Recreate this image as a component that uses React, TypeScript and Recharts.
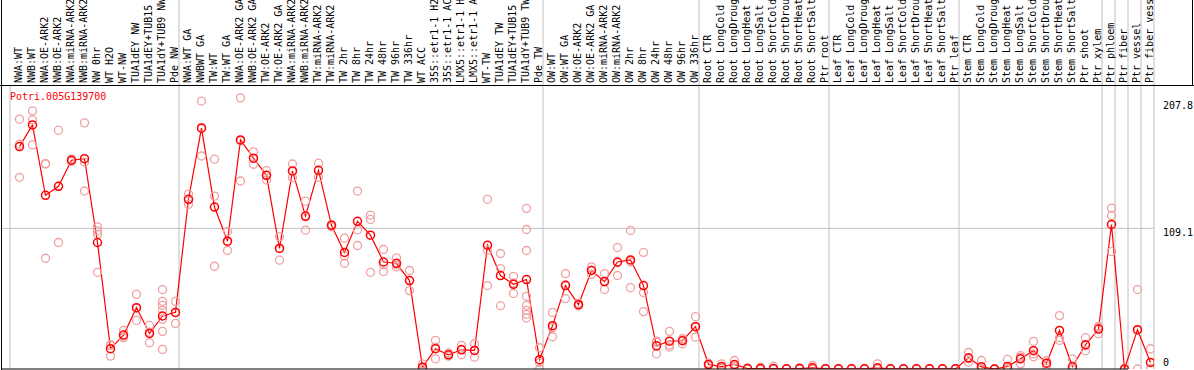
import {
  ComposedChart,
  Line,
  ReferenceLine,
  Scatter,
  XAxis,
  YAxis,
} from 'recharts';

const GENE = 'Potri.005G139700';

// sample names, left to right
const SAMPLES = [
  'NWA:WT', 'NWB:WT', 'NWA:OE-ARK2', 'NWB:OE-ARK2', 'NWA:miRNA-ARK2',
  'NWB:miRNA-ARK2', 'NW 0hr', 'WT H2O', 'WT-NW', 'TUA1dEY NW',
  'TUA1dEY+TUB15 NW', 'TUA1dY+TUB9 NW', 'Pde NW',
  'NWA:WT GA', 'NWBWT GA', 'TW:WT', 'TW:WT GA', 'NWA:OE-ARK2 GA',
  'NWB:OE-ARK2 GA', 'TW:OE-ARK2', 'TW:OE-ARK2 GA', 'NWA:miRNA-ARK2 GA',
  'NWB:miRNA-ARK2 GA', 'TW:miRNA-ARK2', 'TW:miRNA-ARK2 GA', 'TW 2hr',
  'TW 8hr', 'TW 24hr', 'TW 48hr', 'TW 96hr', 'TW 336hr', 'WT ACC',
  '35S::etr1-1 H2O', '35S::etr1-1 ACC', 'LMX5::etr1-1 H2O',
  'LMX5::etr1-1 ACC', 'WT-TW', 'TUA1dEY TW', 'TUA1dEY+TUB15 TW',
  'TUA1dY+TUB9 TW', 'Pde TW',
  'OW:WT', 'OW:WT GA', 'OW:OE-ARK2', 'OW:OE-ARK2 GA', 'OW:miRNA-ARK2',
  'OW:miRNA-ARK2 GA', 'OW 2hr', 'OW 8hr', 'OW 24hr', 'OW 48hr', 'OW 96hr',
  'OW 336hr',
  'Root CTR', 'Root LongCold', 'Root LongDrought', 'Root LongHeat',
  'Root LongSalt', 'Root ShortCold', 'Root ShortDrought', 'Root ShortHeat',
  'Root ShortSalt', 'Ptr root',
  'Leaf CTR', 'Leaf LongCold', 'Leaf LongDrought', 'Leaf LongHeat',
  'Leaf LongSalt', 'Leaf ShortCold', 'Leaf ShortDrought', 'Leaf ShortHeat',
  'Leaf ShortSalt', 'Ptr leaf',
  'Stem CTR', 'Stem LongCold', 'Stem LongDrought', 'Stem LongHeat',
  'Stem LongSalt', 'Stem ShortCold', 'Stem ShortDrought', 'Stem ShortHeat',
  'Stem ShortSalt', 'Ptr shoot', 'Ptr xylem',
  'Ptr phloem', 'Ptr fiber', 'Ptr vessel', 'Ptr fiber vessel',
];

// how many samples sit in each block between the grey separators
const GROUP_SIZES = [13, 28, 12, 10, 10, 11, 1, 1, 1, 1];

const MEANS = [
  172.5, 189.3, 134.7, 141.7, 161.9, 163.1, 98.1, 15.7, 26.3, 47.6, 27.6, 41.1, 43.9,
  131.6, 186.8, 125.6, 99.1, 177.7, 163.5, 150.2, 93.5, 153.6, 118.6, 154.1, 111.4,
  90.4, 114.5, 103.8, 83.0, 82.0, 68.6, 1.4, 15.7, 11.0, 14.9, 14.4, 96.0, 72.5,
  65.7, 69.4, 7.2,
  33.6, 64.7, 49.9, 76.4, 67.8, 83.0, 84.6, 64.7, 18.0, 21.6, 21.9, 32.8,
  3.5, 1.9, 3.5, 0.4, 0.4, 0.4, 0.1, 0.4, 0.9, 0.2,
  0.1, 0.1, 0.1, 0.9, 0.1, 0.1, 0.1, 0.1, 0.1, 0.1,
  8.7, 1.7, 0, 1.9, 7.9, 14.2, 4.5, 29.9, 1.9, 18.8, 31.0,
  112.1, 0, 30.5, 5.1,
];

// individual replicates per sample
const REPLICATES = [
  [193.8, 174.3, 148.7], [200.2, 193.2, 173.8], [159, 85.9, 159.3],
  [185.2, 98.1, 141.8], [163, 161, 162], [190.9, 138, 160.4],
  [110.3, 107.2, 104.4, 75], [18.3, 10, 18.8], [29.9, 24.3, 24.7],
  [57.9, 37.7, 47.2], [33.8, 20.4, 28.6],
  [61.6, 52.5, 49.4, 45.5, 38.5, 29.2, 15.2], [52.5, 35.4, 43.8],
  [135.7, 127.7, 131.4], [207.8, 165.2, 187.4], [162.7, 134.1, 79.7],
  [106.7, 91.9, 98.7], [210.3, 145.8, 177], [168.4, 158.8, 163.3],
  [153.8, 146.6, 150.2], [102.5, 84.4, 93.6], [159, 148.4, 153.4],
  [130.2, 107.7, 117.9], [159.6, 148.7, 154], [111.8, 110.3, 112],
  [101.5, 87.7, 82], [138, 107.9, 95.8], [119.4, 116, 75],
  [92.7, 75.6, 80.7], [86.2, 79.2, 80.7], [76.4, 60.8, 68.6],
  [4, 0, 0.3], [22.2, 7.9, 17], [12.4, 10, 10.7], [18.3, 11, 15.4],
  [19.6, 9.2, 14.4], [131.6, 92.1, 64.7], [89.6, 77.9, 49.1],
  [71.9, 58.5, 66.7], [124.6, 108.2, 91.9, 56.4, 49.4, 45.5, 42.4, 39.5],
  [16.5, 0, 5],
  [43.9, 25, 32], [74, 54.6, 65.5], [51, 49, 50], [79.2, 73.3, 76.5],
  [74, 61.6, 67.8], [94.2, 72.5, 82.4], [107.5, 63.1, 83.2],
  [90.4, 59.3, 44.5], [21.6, 11.8, 20.6], [29.2, 17, 18.6],
  [23.5, 19.6, 22.6], [40.6, 24.7, 33],
  [4.5, 2.5, 3.5], [4, 0.5, 1.2], [6.6, 2, 2], [0.8, 0.2, 0.2],
  [1.4, 0, 0], [2.2, 0, 0], [0.2, 0, 0.1], [1, 0.1, 0.1], [2.7, 0, 0],
  [0.3, 0.1, 0.2],
  [0.1, 0.1, 0.1], [0.1, 0.1, 0.1], [0.2, 0, 0.1], [4, 0, 0],
  [0.1, 0.1, 0.1], [0.1, 0.1, 0.1], [0.1, 0.1, 0.1], [0.1, 0.1, 0.1],
  [0.1, 0.1, 0.1], [0.1, 0.1, 0.1],
  [12.8, 5.3, 8], [6.6, 0, 0], [0, 0, 0], [7.4, 0, 0], [10.3, 9.2, 4],
  [21.4, 9.5, 11.7], [6.4, 2.7, 4.4], [41.4, 24.3, 22.2], [7.6, 0, 0],
  [24.3, 14.2, 18], [32.5, 27.4, 33],
  [124.8, 119.1, 91.1], [0, 0, 0], [61.6, 0, 29.9], [15.7, 0, 0],
];

const Y_TICKS = [0, 109.1, 207.8];
const Y_MAX = 207.8 * 1.06;

const W = 1194;
const H = 370;
const FONT = '"DejaVu Sans Mono", monospace';
const RED = '#ff0000';
const PINK = '#f0a0a0';
const GRID = '#c0c0c0';

// points sit a little right of the centre of their 13px slot
const OFFSET = 0.73;

const meanRows = MEANS.map((mean, i) => ({ i, mean }));
const repRows = REPLICATES.flatMap((reps, i) => reps.map((v) => ({ i, v })));

const groupEnds: number[] = [];
GROUP_SIZES.reduce((acc, n) => {
  groupEnds.push(acc + n);
  return acc + n;
}, 0);

const SampleTick = (props: any) => {
  const { x, payload } = props;
  const bx = x + 2.3;
  return (
    <text
      x={bx}
      y={83}
      transform={`rotate(-90 ${bx} 83)`}
      fontFamily={FONT}
      fontSize={10}
      fill="#000"
      textAnchor="start">
      {SAMPLES[payload.value]}
    </text>
  );
};

const ValueTick = (props: any) => {
  const { x, y, payload } = props;
  const v = payload.value;
  return (
    <text
      x={x + 1}
      y={v === 0 ? y - 3 : y + 7.5}
      fontFamily={FONT}
      fontSize={10}
      fill="#000"
      textAnchor="start">
      {String(v)}
    </text>
  );
};

const fullSeparator = (p: any) => (
  <line
    x1={p.x1}
    x2={p.x2}
    y1={0}
    y2={Math.max(p.y1, p.y2)}
    stroke={GRID}
    strokeWidth={1}
  />
);

const wideGridLine = (p: any) => (
  <line
    x1={1}
    x2={Math.max(p.x1, p.x2)}
    y1={p.y1}
    y2={p.y2}
    stroke={GRID}
    strokeWidth={1}
  />
);

export default function App() {
  return (
    <div
      style={{
        position: 'absolute',
        left: 0,
        top: 0,
        width: W,
        height: H,
        overflow: 'hidden',
        background: '#fff',
      }}>
      <ComposedChart
        width={W}
        height={H}
        data={meanRows}
        margin={{ top: 0, right: 0, left: 10, bottom: 1 }}>
        <XAxis
          type="number"
          dataKey="i"
          orientation="top"
          height={85}
          domain={[-OFFSET, SAMPLES.length - OFFSET]}
          ticks={SAMPLES.map((_, i) => i)}
          interval={0}
          allowDataOverflow
          axisLine={false}
          tickLine={false}
          tick={<SampleTick />}
        />
        <YAxis
          orientation="right"
          width={40}
          domain={[0, Y_MAX]}
          ticks={Y_TICKS}
          interval={0}
          allowDataOverflow
          axisLine={false}
          tickLine={false}
          tick={<ValueTick />}
        />
        <ReferenceLine
          x={-OFFSET}
          stroke={GRID}
          strokeWidth={1}
          ifOverflow="visible"
        />
        {groupEnds.map((e) => (
          <ReferenceLine
            key={e}
            x={e - OFFSET}
            ifOverflow="visible"
            shape={fullSeparator}
          />
        ))}
        <ReferenceLine y={109.1} ifOverflow="visible" shape={wideGridLine} />
        <Scatter
          data={repRows}
          dataKey="v"
          isAnimationActive={false}
          shape={(p: any) => (
            <circle
              cx={p.cx}
              cy={p.cy}
              r={4}
              fill="none"
              stroke={PINK}
              strokeWidth={1.3}
            />
          )}
        />
        <Line
          type="linear"
          dataKey="mean"
          stroke={RED}
          strokeWidth={1.2}
          isAnimationActive={false}
          dot={{ r: 4, stroke: RED, strokeWidth: 1.5, fill: 'none' }}
        />
      </ComposedChart>
      <svg
        width={W}
        height={H}
        style={{ position: 'absolute', left: 0, top: 0, pointerEvents: 'none' }}>
        <line x1={1.5} x2={1.5} y1={0} y2={H} stroke="#000" strokeWidth={1} />
        <line x1={0} x2={W} y1={85.5} y2={85.5} stroke="#000" strokeWidth={1} />
        <line x1={W - 1.5} x2={W - 1.5} y1={0} y2={85} stroke="#000" strokeWidth={1} />
        <line x1={1} x2={1128} y1={369} y2={369} stroke="#000" strokeWidth={1} />
        <text x={10} y={100} fill={RED} fontFamily={FONT} fontSize={10}>
          {GENE}
        </text>
      </svg>
    </div>
  );
}
